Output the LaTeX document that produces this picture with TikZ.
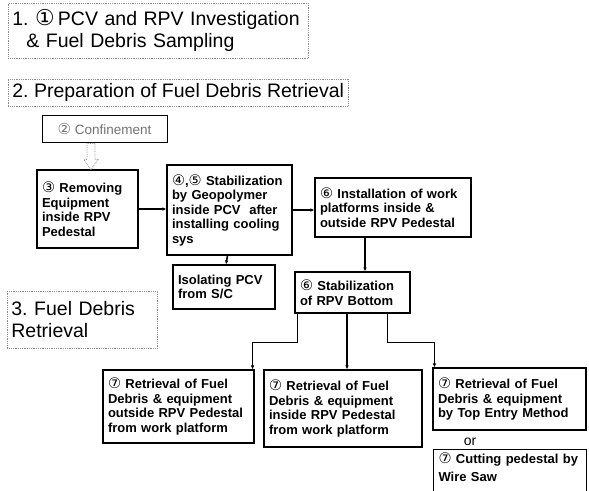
\documentclass[tikz,border=0pt]{standalone}
\usepackage{fontspec}
\setmainfont{Liberation Sans}
\newfontfamily\circfont{DejaVu Sans}
\usetikzlibrary{arrows.meta,calc}
\newcommand{\cn}[1]{\scalebox{1.12}{\circfont\fontseries{m}\selectfont #1}}
\tikzset{
  flowbox/.style={draw, line width=1.1pt, align=left, inner xsep=5pt, inner ysep=3pt,
    font=\fontsize{13}{14.5}\selectfont\bfseries},
  headbox/.style={draw=black!45, densely dotted, line width=0.8pt, align=left, inner sep=4pt,
    font=\fontsize{19.5}{22}\selectfont},
  flowline/.style={line width=1.5pt, -{Latex[length=4pt,width=3.5pt]}},
  hollowarrow/.style={draw=black!45, densely dotted, line width=0.8pt, fill=white},
}
\begin{document}
\begin{tikzpicture}[x=1pt,y=-1pt]
		\clip (0,0) rectangle (589,490);
		\fill[white] (0,0) rectangle (589,490);
		% headings
		\node[headbox, anchor=north west, text width=292pt, minimum height=55pt] (inv) at (8,3)
			{1.\ \cn{①}\,PCV and RPV Investigation\\\hspace*{14pt}\&\ Fuel Debris Sampling};
		\node[headbox, anchor=west, minimum height=27pt] (prep) at (8,92.5)
			{2.\ Preparation of Fuel Debris Retrieval};
		\node[headbox, anchor=north west, text width=142pt, minimum height=57pt] (retr) at (7,291)
			{3.\ Fuel Debris\\Retrieval};
		% step boxes
		\node[draw, line width=0.8pt, minimum width=125pt, minimum height=27pt, text=black!55,
			font=\fontsize{13.5}{15}\selectfont] (conf) at (104.5,128.5) {\cn{②} Confinement};
		\node[flowbox, text width=91pt, minimum height=78pt] (rem) at (87.5,209)
			{\cn{③} Removing\\Equipment\\inside RPV\\Pedestal};
		\node[flowbox, text width=115pt, minimum height=90pt] (geo) at (229.5,210)
			{\cn{④},\cn{⑤} Stabilization\\by Geopolymer\\inside PCV\ \ after\\installing cooling\\sys};
		\node[flowbox, text width=146pt, minimum height=59pt] (plat) at (393,207.5)
			{\cn{⑥} Installation of work\\platforms inside \&\\outside RPV Pedestal};
		\node[flowbox, text width=92pt, minimum height=44pt] (iso) at (224,287)
			{Isolating PCV\\from S/C};
		\node[flowbox, text width=105pt, minimum height=41pt] (bot) at (352.5,292.5)
			{\cn{⑥} Stabilization\\of RPV Bottom};
		\node[flowbox, text width=141pt, minimum height=73pt] (out) at (178.5,406.5)
			{\cn{⑦} Retrieval of Fuel\\Debris \& equipment\\outside RPV Pedestal\\from work platform};
		\node[flowbox, text width=148pt, minimum height=77pt] (ins) at (343,408.5)
			{\cn{⑦} Retrieval of Fuel\\Debris \& equipment\\inside RPV Pedestal\\from work platform};
		\node[flowbox, text width=143pt, minimum height=62pt] (top) at (509.5,399)
			{\cn{⑦} Retrieval of Fuel\\Debris \& equipment\\by Top Entry Method};
		\node[font=\fontsize{14}{16}\selectfont] (or) at (470,442) {or};
		\node[flowbox, anchor=north west, text width=143pt, text depth=26pt,
			font=\fontsize{13}{18}\selectfont\bfseries] (saw) at (433,449)
			{\cn{⑦} Cutting pedestal by\\Wire Saw};
		% connectors
		\coordinate (cfTail) at ([xshift=3.5pt]rem.north |- conf.south);
		\coordinate (cfHead) at ([xshift=3.5pt]rem.north);
		\draw[hollowarrow] ($(cfTail)+(-4,1)$) -- ($(cfHead)+(-4,-10)$) -- ($(cfHead)+(-7,-10)$) -- (cfHead)
			-- ($(cfHead)+(7,-10)$) -- ($(cfHead)+(4,-10)$) -- ($(cfTail)+(4,1)$) -- cycle;
		\draw[flowline] (rem.east) -- (rem.east -| geo.west);
		\draw[flowline] (geo.east) -- (geo.east -| plat.west);
		\draw[flowline] ([xshift=-2pt]geo.south) -- ([xshift=2pt]iso.north);
		\draw[flowline] ([xshift=-28pt]plat.south) -- ([xshift=-28pt]plat.south |- bot.north);
		\draw[flowline] ([xshift=3pt]bot.south west) -- ++(0,29) -| ([xshift=-2pt]out.north east);
		\draw[flowline] ([xshift=-5.5pt]bot.south) -- ([xshift=-5.5pt]bot.south |- ins.north);
		\draw[flowline] ([xshift=-23pt]bot.south east) -- ++(0,29) -| ([xshift=2pt]top.north west);
	\end{tikzpicture}
\end{document}
